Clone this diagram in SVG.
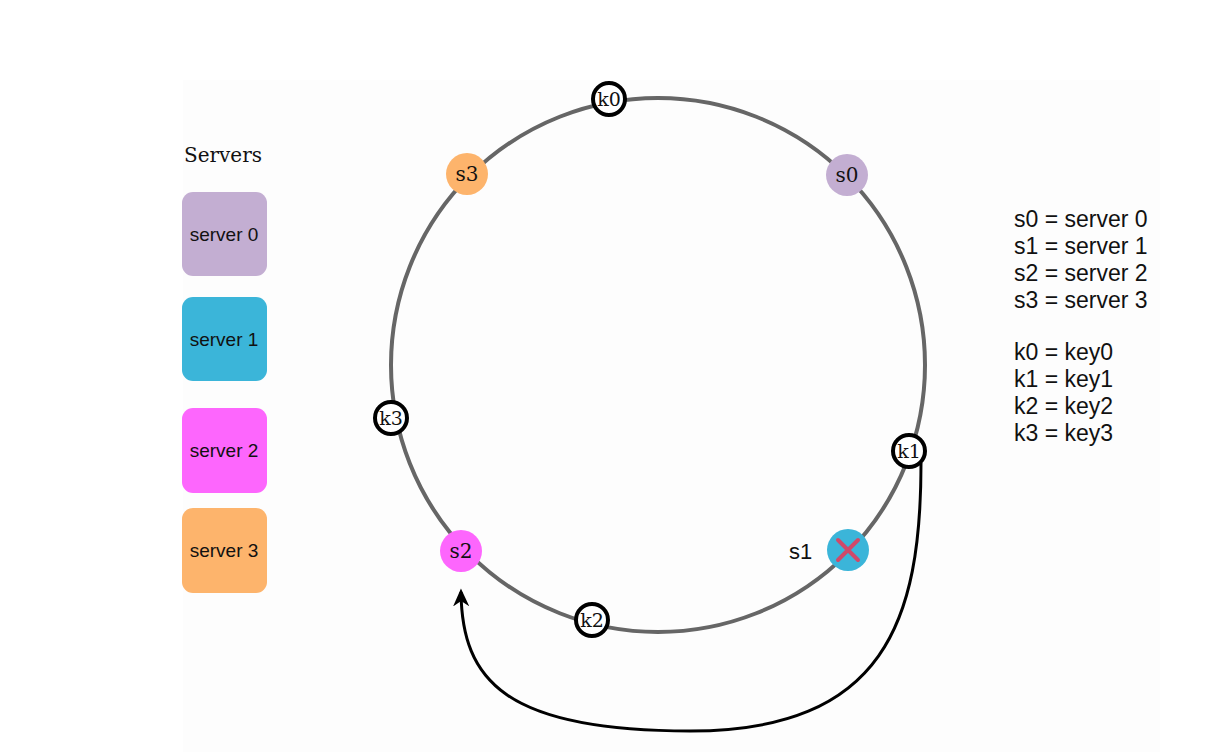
<svg xmlns="http://www.w3.org/2000/svg" width="1222" height="752" viewBox="0 0 1222 752">
  <style>
    .ring { fill: none; stroke: #666666; stroke-width: 4; }
    .key circle { fill: #ffffff; stroke: #000000; stroke-width: 4; }
    .serif { font-family: "DejaVu Serif", "Liberation Serif", serif; fill: #111111; text-anchor: middle; }
    .ktext { font-size: 19px; }
    .stext { font-size: 20px; }
    .sans { font-family: "Liberation Sans", Arial, sans-serif; fill: #111111; }
    .box text { font-size: 19px; text-anchor: middle; }
    .legend { font-size: 23px; }
    .link { fill: none; stroke: #000000; stroke-width: 3; }
  </style>
  <defs>
    <marker id="arrow" viewBox="0 0 10 10" refX="8" refY="5" markerWidth="18" markerHeight="18" orient="auto-start-reverse" markerUnits="userSpaceOnUse">
      <path d="M0,0.5 L10,5 L0,9.5 L3,5 Z" fill="#000000"/>
    </marker>
  </defs>

  <rect x="0" y="0" width="1222" height="752" fill="#ffffff"/>
  <rect x="183" y="80" width="977" height="672" fill="#fdfdfd"/>

  <!-- server legend -->
  <text class="serif" x="223" y="162" font-size="20">Servers</text>
  <g id="box-server0" class="box">
    <rect x="182" y="192" width="85" height="84" rx="11" fill="#c3aed2"/>
    <text class="sans" x="224" y="241">server 0</text>
  </g>
  <g id="box-server1" class="box">
    <rect x="182" y="297" width="85" height="84" rx="11" fill="#3bb5d9"/>
    <text class="sans" x="224" y="346">server 1</text>
  </g>
  <g id="box-server2" class="box">
    <rect x="182" y="408" width="85" height="85" rx="11" fill="#fd66fd"/>
    <text class="sans" x="224" y="457">server 2</text>
  </g>
  <g id="box-server3" class="box">
    <rect x="182" y="508" width="85" height="85" rx="11" fill="#fdb46c"/>
    <text class="sans" x="224" y="557">server 3</text>
  </g>

  <!-- hash ring -->
  <circle id="ring" class="ring" cx="658" cy="365" r="267"/>

  <!-- connectors -->
  <g id="connectors">
    <path class="link" d="M 921 463 C 921 620 885 731 690 731 C 505 731 462 680 461 592" marker-end="url(#arrow)"/>
  </g>

  <!-- servers on the ring -->
  <g id="s0">
    <circle cx="847" cy="175" r="21" fill="#c3aed2"/>
    <text class="serif stext" x="847" y="182">s0</text>
  </g>
  <g id="s3">
    <circle cx="467" cy="174" r="21" fill="#fdb46c"/>
    <text class="serif stext" x="467" y="181">s3</text>
  </g>
  <g id="s2">
    <circle cx="461" cy="551" r="21" fill="#fd66fd"/>
    <text class="serif stext" x="461" y="558">s2</text>
  </g>
  <g id="s1">
    <circle cx="848" cy="550" r="21" fill="#3bb5d9"/>
    <path d="M838 540 L858 560 M858 540 L838 560" stroke="#d0496a" stroke-width="4" stroke-linecap="round"/>
    <text class="sans" x="789" y="559" font-size="22">s1</text>
  </g>

  <!-- keys on the ring -->
  <g id="k0" class="key">
    <circle cx="609" cy="99" r="16"/>
    <text class="serif ktext" x="609" y="106">k0</text>
  </g>
  <g id="k3" class="key">
    <circle cx="391" cy="418" r="16"/>
    <text class="serif ktext" x="391" y="425">k3</text>
  </g>
  <g id="k1" class="key">
    <circle cx="909" cy="451" r="16"/>
    <text class="serif ktext" x="909" y="458">k1</text>
  </g>
  <g id="k2" class="key">
    <circle cx="592" cy="620" r="16"/>
    <text class="serif ktext" x="592" y="627">k2</text>
  </g>

  <!-- abbreviations -->
  <g id="abbreviations" class="sans legend">
    <text x="1014" y="227">s0 = server 0</text>
    <text x="1014" y="254">s1 = server 1</text>
    <text x="1014" y="281">s2 = server 2</text>
    <text x="1014" y="308">s3 = server 3</text>
    <text x="1014" y="360">k0 = key0</text>
    <text x="1014" y="387">k1 = key1</text>
    <text x="1014" y="414">k2 = key2</text>
    <text x="1014" y="441">k3 = key3</text>
  </g>
</svg>
